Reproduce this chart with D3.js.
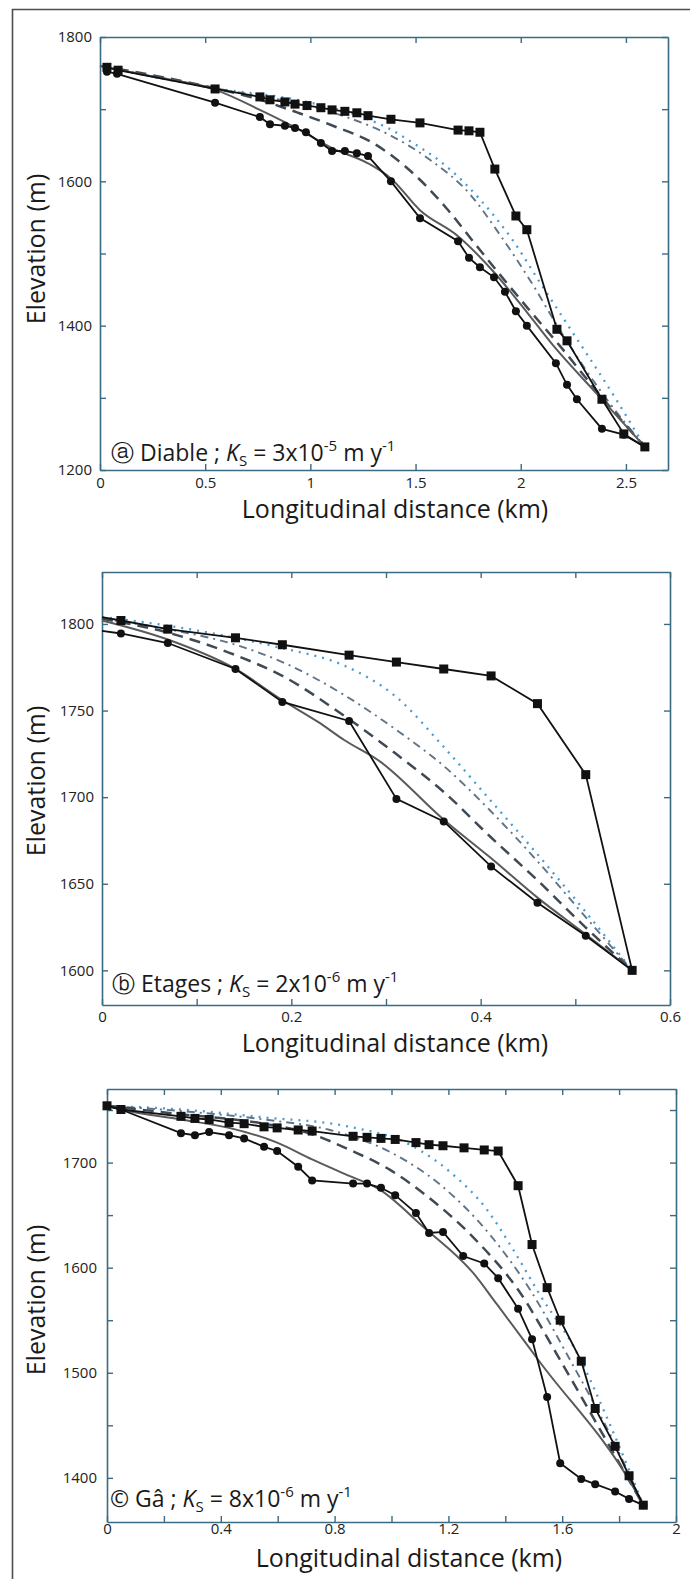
<!DOCTYPE html>
<html><head><meta charset="utf-8">
<script src="https://cdn.jsdelivr.net/npm/d3@7"></script>
<style>
html,body{margin:0;padding:0;background:#fff;}
svg{display:block;font-family:"Open Sans",sans-serif;}
</style></head><body>
<svg id="chart" width="690" height="1579"></svg>
<script>
// ---------- Panel (a) Diable ----------
const diableXTicks = [0, 0.5, 1, 1.5, 2, 2.5];
const diableXTickLabels = ["0", "0.5", "1", "1.5", "2", "2.5"];
const diableYTicks = [1200, 1300, 1400, 1500, 1600, 1700, 1800];
const diableYTickLabels = ["1200", "", "1400", "", "1600", "", "1800"];
const diableInitial = [[0.033,1758],[0.086,1754],[0.547,1728],[0.760,1717],[0.808,1713],[0.879,1710],[0.927,1707],[0.984,1705],[1.050,1702],[1.103,1699],[1.164,1697],[1.221,1695],[1.274,1691],[1.383,1686],[1.521,1681],[1.702,1671],[1.754,1670],[1.806,1668],[1.877,1617],[1.977,1552],[2.029,1533],[2.172,1395],[2.220,1379],[2.386,1298],[2.490,1250],[2.590,1232]];
const diablePresent = [[0.033,1752],[0.081,1749],[0.547,1709],[0.760,1689],[0.808,1679],[0.879,1677],[0.927,1674],[0.979,1668],[1.050,1653],[1.103,1642],[1.164,1642],[1.221,1639],[1.274,1635],[1.383,1600],[1.521,1549],[1.702,1517],[1.754,1494],[1.806,1481],[1.873,1467],[1.925,1447],[1.977,1420],[2.029,1400],[2.167,1348],[2.220,1318],[2.267,1298],[2.386,1257],[2.490,1249],[2.590,1232]];
const diableSolid = [[0,1760],[0.238,1746],[0.547,1727],[0.760,1699],[0.951,1671],[1.103,1646],[1.274,1625],[1.383,1604],[1.521,1560],[1.702,1524],[1.873,1474],[1.996,1431],[2.153,1373],[2.376,1301],[2.59,1232]];
const diableDashed = [[0,1760],[0.285,1745],[0.547,1729],[0.760,1713],[0.951,1694],[1.107,1677],[1.298,1653],[1.450,1621],[1.549,1594],[1.649,1562],[1.773,1517],[1.892,1474],[2.034,1424],[2.186,1372],[2.376,1304],[2.59,1232]];
const diableDashDot = [[0,1760],[0.547,1729],[0.903,1710],[1.141,1692],[1.378,1664],[1.568,1630],[1.759,1582],[1.901,1526],[2.044,1463],[2.186,1394],[2.376,1311],[2.59,1232]];
const diableDotted = [[0,1760],[0.547,1729],[0.951,1712],[1.283,1685],[1.388,1671],[1.483,1654],[1.616,1628],[1.725,1600],[1.806,1575],[1.958,1520],[2.091,1460],[2.248,1390],[2.438,1305],[2.59,1232]];

// ---------- Panel (b) Etages ----------
const etagesXTicks = [0, 0.1, 0.2, 0.3, 0.4, 0.5, 0.6];
const etagesXTickLabels = ["0", "", "0.2", "", "0.4", "", "0.6"];
const etagesYTicks = [1600, 1650, 1700, 1750, 1800];
const etagesYTickLabels = ["1600", "1650", "1700", "1750", "1800"];
const etagesInitial = [[0,1804],[0.020,1802],[0.0695,1797],[0.141,1792],[0.1905,1788],[0.261,1782],[0.311,1778],[0.361,1774],[0.411,1770],[0.460,1754],[0.511,1713],[0.560,1600]];
const etagesPresent = [[0,1796],[0.020,1794.5],[0.0695,1789],[0.141,1774],[0.1905,1755],[0.261,1744],[0.311,1699],[0.361,1686],[0.411,1660],[0.460,1639],[0.511,1620],[0.560,1600]];
const etagesSolid = [[0,1802],[0.0695,1791],[0.141,1774],[0.1905,1756],[0.2295,1743],[0.2558,1733],[0.2926,1721],[0.361,1687],[0.4105,1665],[0.46,1642],[0.5105,1621],[0.56,1600]];
const etagesDashed = [[0,1803],[0.0695,1795],[0.141,1782],[0.1905,1770],[0.2558,1747],[0.3105,1725],[0.361,1703],[0.4105,1677],[0.46,1652],[0.5105,1625],[0.56,1600]];
const etagesDashDot = [[0,1803],[0.0695,1797],[0.141,1788],[0.1905,1778],[0.2558,1759],[0.3105,1739],[0.361,1718],[0.4105,1692],[0.46,1663],[0.5105,1631],[0.56,1600]];
const etagesDotted = [[0,1804],[0.0695,1799],[0.141,1792],[0.1905,1786],[0.2558,1776],[0.3105,1758],[0.361,1729],[0.4105,1698],[0.46,1667],[0.5105,1634],[0.56,1600]];

// ---------- Panel (c) Ga ----------
const gaXTicks = [0, 0.2, 0.4, 0.6, 0.8, 1.0, 1.2, 1.4, 1.6, 1.8, 2.0];
const gaXTickLabels = ["0", "", "0.4", "", "0.8", "", "1.2", "", "1.6", "", "2"];
const gaYTicks = [1400, 1450, 1500, 1550, 1600, 1650, 1700, 1750];
const gaYTickLabels = ["1400", "", "1500", "", "1600", "", "1700", ""];
const gaInitial = [[0,1754],[0.049,1750.5],[0.260,1744],[0.309,1742],[0.359,1741],[0.429,1738],[0.482,1737],[0.552,1734],[0.598,1733],[0.672,1731],[0.721,1730],[0.865,1725],[0.914,1724],[0.963,1723],[1.013,1722],[1.086,1719],[1.132,1717],[1.181,1716],[1.255,1714],[1.326,1712],[1.375,1711],[1.445,1678],[1.494,1622],[1.547,1581],[1.593,1550],[1.667,1511],[1.716,1466],[1.786,1430],[1.835,1402],[1.885,1374]];
const gaPresent = [[0,1754],[0.049,1750.5],[0.260,1728],[0.309,1726],[0.359,1729],[0.429,1726],[0.482,1723],[0.552,1715],[0.598,1711],[0.672,1696],[0.721,1683],[0.865,1680],[0.914,1680],[0.963,1676],[1.013,1669],[1.086,1652],[1.132,1633],[1.181,1634],[1.252,1611],[1.326,1604],[1.375,1590],[1.445,1561],[1.494,1532],[1.547,1477],[1.593,1414],[1.667,1399],[1.716,1394],[1.786,1387],[1.835,1380],[1.885,1374]];
const gaSolid = [[0,1754],[0.049,1750.5],[0.26,1741],[0.429,1733],[0.598,1719],[0.721,1703],[0.837,1689],[0.960,1674],[1.111,1639],[1.287,1595],[1.371,1565],[1.522,1510],[1.850,1391],[1.885,1374]];
const gaDashed = [[0,1754],[0.26,1746],[0.552,1737],[0.721,1727],[0.854,1712],[0.995,1693],[1.125,1668],[1.294,1627],[1.445,1579],[1.593,1512],[1.733,1446],[1.885,1374]];
const gaDashDot = [[0,1754],[0.26,1749],[0.552,1741],[0.784,1731],[0.995,1710],[1.171,1679],[1.347,1631],[1.487,1579],[1.628,1512],[1.769,1441],[1.885,1374]];
const gaDotted = [[0,1754],[0.26,1750.5],[0.552,1743],[0.854,1734],[1.065,1717],[1.206,1691],[1.336,1655],[1.428,1617],[1.522,1574],[1.646,1522],[1.769,1450],[1.885,1374]];

const panels = [
  {box:{left:100,right:668,top:37,bottom:470}, xDomain:[0,2.7], yDomain:[1200,1800],
   xTicks:diableXTicks, xTickLabels:diableXTickLabels, yTicks:diableYTicks, yTickLabels:diableYTickLabels,
   xPad:7, yPad:8, initial:diableInitial, present:diablePresent, zeroMarker:false,
   models:[diableSolid, diableDashed, diableDashDot, diableDotted],
   letter:"\u24D0", name:"Diable", mant:"3", exp:"-5",
   annot:[111,461], xLabel:[395,518], yLabel:[45,249]},
  {box:{left:102,right:670,top:572,bottom:1005}, xDomain:[0,0.6], yDomain:[1580,1830],
   xTicks:etagesXTicks, xTickLabels:etagesXTickLabels, yTicks:etagesYTicks, yTickLabels:etagesYTickLabels,
   xPad:6, yPad:8, initial:etagesInitial, present:etagesPresent, zeroMarker:false,
   models:[etagesSolid, etagesDashed, etagesDashDot, etagesDotted],
   letter:"\u24D1", name:"Etages", mant:"2", exp:"-6",
   annot:[112,992], xLabel:[395,1052], yLabel:[45,781]},
  {box:{left:107,right:676,top:1089,bottom:1522}, xDomain:[0,2.0], yDomain:[1358,1770],
   xTicks:gaXTicks, xTickLabels:gaXTickLabels, yTicks:gaYTicks, yTickLabels:gaYTickLabels,
   xPad:1, yPad:10, initial:gaInitial, present:gaPresent, zeroMarker:true,
   models:[gaSolid, gaDashed, gaDashDot, gaDotted],
   letter:"\u00A9", name:"G\u00E2", mant:"8", exp:"-6",
   annot:[110,1507], xLabel:[409,1567], yLabel:[45,1300]}
];

const axisColor = "#3a6b82";
const modelStyles = [
  {stroke:"#5a5a5a", width:2, dash:null},
  {stroke:"#3f4a54", width:2.5, dash:"11,7"},
  {stroke:"#5f7488", width:1.9, dash:"8,5,2,5"},
  {stroke:"#4a9bd0", width:2.3, dash:"2,6"}
];

const svg = d3.select("#chart");
svg.append("rect").attr("width",690).attr("height",1579).attr("fill","#fff");
svg.append("path").attr("d","M12.5,1579V9.5H690").attr("fill","none")
   .attr("stroke","#4d4d4d").attr("stroke-width",1.6);

panels.forEach(p => {
  const b = p.box;
  const g = svg.append("g");
  const x = d3.scaleLinear().domain(p.xDomain).range([b.left, b.right]);
  const y = d3.scaleLinear().domain(p.yDomain).range([b.bottom, b.top]);

  const axes = g.append("g").attr("class","axes");
  axes.append("g").attr("transform",`translate(0,${b.bottom})`)
    .call(d3.axisBottom(x).tickValues(p.xTicks).tickFormat((d,i)=>p.xTickLabels[i])
      .tickSize(-6).tickSizeOuter(0).tickPadding(p.xPad));
  axes.append("g").attr("transform",`translate(0,${b.top})`)
    .call(d3.axisTop(x).tickValues(p.xTicks).tickFormat(()=>"").tickSize(-6).tickSizeOuter(0));
  axes.append("g").attr("transform",`translate(${b.left},0)`)
    .call(d3.axisLeft(y).tickValues(p.yTicks).tickFormat((d,i)=>p.yTickLabels[i])
      .tickSize(-6).tickSizeOuter(0).tickPadding(p.yPad));
  axes.append("g").attr("transform",`translate(${b.right},0)`)
    .call(d3.axisRight(y).tickValues(p.yTicks).tickFormat(()=>"").tickSize(-6).tickSizeOuter(0));
  axes.selectAll(".domain").attr("stroke",axisColor).attr("stroke-width",1.6);
  axes.selectAll(".tick line").attr("stroke",axisColor).attr("stroke-width",1.4);
  axes.selectAll(".tick text").attr("font-size",15).attr("fill","#222")
    .attr("font-family","'Open Sans',sans-serif");

  const lineLin = d3.line().x(d=>x(d[0])).y(d=>y(d[1]));
  const lineSmooth = d3.line().x(d=>x(d[0])).y(d=>y(d[1])).curve(d3.curveMonotoneX);

  for (let i = p.models.length-1; i >= 0; i--) {
    const s = modelStyles[i];
    g.append("path").datum(p.models[i]).attr("d",lineSmooth)
      .attr("fill","none").attr("stroke",s.stroke).attr("stroke-width",s.width)
      .attr("stroke-dasharray",s.dash);
  }
  g.append("path").datum(p.present).attr("d",lineLin)
    .attr("fill","none").attr("stroke","#111").attr("stroke-width",1.8);
  g.append("path").datum(p.initial).attr("d",lineLin)
    .attr("fill","none").attr("stroke","#111").attr("stroke-width",1.8);
  const keep = d => p.zeroMarker || d[0] > 0;
  g.selectAll("circle.pt").data(p.present.filter(keep)).join("circle")
    .attr("class","pt").attr("cx",d=>x(d[0])).attr("cy",d=>y(d[1])).attr("r",4).attr("fill","#111");
  g.selectAll("rect.pt").data(p.initial.filter(keep)).join("rect")
    .attr("class","pt").attr("x",d=>x(d[0])-4.5).attr("y",d=>y(d[1])-4.5)
    .attr("width",9).attr("height",9).attr("fill","#111");

  const t = g.append("text").attr("x",p.annot[0]).attr("y",p.annot[1])
    .attr("font-size",23).attr("fill","#1a1a1a");
  t.append("tspan").text(p.letter + " " + p.name + " ; ");
  t.append("tspan").attr("font-style","italic").text("K");
  t.append("tspan").attr("font-size",15).attr("dy",5).text("S");
  t.append("tspan").attr("dy",-5).text(" = " + p.mant + "x10");
  t.append("tspan").attr("font-size",15).attr("dy",-10).text(p.exp);
  t.append("tspan").attr("dy",10).text(" m y");
  t.append("tspan").attr("font-size",15).attr("dy",-10).text("-1");

  g.append("text").attr("x",p.xLabel[0]).attr("y",p.xLabel[1]).attr("text-anchor","middle")
    .attr("font-size",25).attr("fill","#1a1a1a").text("Longitudinal distance (km)");
  g.append("text").attr("transform",`translate(${p.yLabel[0]},${p.yLabel[1]}) rotate(-90)`)
    .attr("text-anchor","middle").attr("font-size",25).attr("fill","#1a1a1a").text("Elevation (m)");
});
</script>
</body></html>
